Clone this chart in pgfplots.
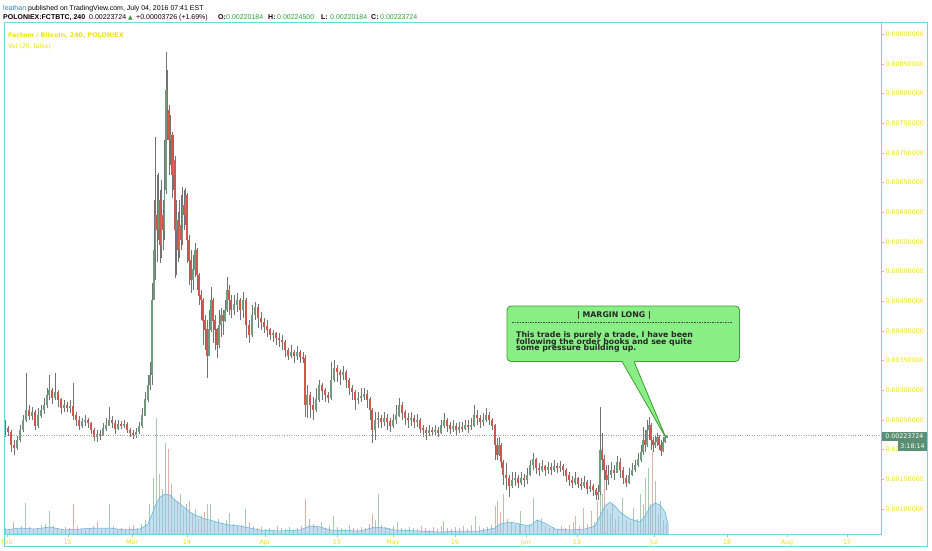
\documentclass[border=0pt]{standalone}
\usepackage{pgfplots}
\pgfplotsset{compat=1.18}
\usepackage{pgfplotstable}
\usepackage{fontspec}
\setmainfont{Liberation Sans}
\newfontfamily\dejavu{DejaVu Sans}

\definecolor{tvcyan}{HTML}{68D8E6}
\definecolor{tvyellow}{HTML}{EEE10C}
\definecolor{tvgreen}{HTML}{2E9E3E}
\definecolor{tvblue}{HTML}{2F7EC1}
\definecolor{candleup}{HTML}{6F9A80}
\definecolor{candledn}{HTML}{D0584B}
\definecolor{wick}{HTML}{727272}
\definecolor{volup}{HTML}{A8C8B2}
\definecolor{voldn}{HTML}{E3AFA9}
\definecolor{volma}{HTML}{8CC8E6}
\definecolor{volmaline}{HTML}{5AAFD9}
\definecolor{lastbox}{HTML}{5B8F73}
\definecolor{notefill}{HTML}{88EE85}
\definecolor{notedraw}{HTML}{3C9E2E}

\newcommand\hdr{\fontsize{7}{8}\selectfont}
\newcommand\tvtick{\dejavu\fontsize{6.3}{7}\selectfont}
\newcommand\note{\dejavu\bfseries\fontsize{7.8}{9}\selectfont}

% POLONIEX FCT/BTC, 240 min candles; prices in 1e-5 BTC, x = bar position
\pgfplotstableread{
x o h l c
5 241 250 221 236
8 236 240 223 230
11 230 233 196 208
14 208 216 191 203
17 203 223 199 216
20 216 241 213 233
23 233 258 230 250
26 250 329 247 267
29 267 275 250 258
32 258 272 250 263
35 263 267 233 241
38 241 270 236 258
41 258 275 253 267
44 267 287 260 275
47 275 304 270 292
49 292 326 284 300
52 300 304 277 287
55 287 329 284 297
58 297 300 272 284
61 284 287 260 270
64 270 284 263 275
67 275 280 263 270
70 270 284 262 273
73 273 312 250 258
76 258 263 240 250
79 250 257 233 241
82 241 253 236 247
85 247 258 240 250
88 250 253 236 245
91 245 247 226 233
94 233 236 215 221
97 221 233 213 226
100 226 233 216 223
103 223 245 223 236
106 236 253 231 241
109 241 272 241 250
112 250 257 236 245
115 245 250 226 236
118 236 250 233 243
121 243 248 235 240
124 240 250 236 243
127 243 247 228 233
130 233 236 221 228
133 228 233 218 225
136 225 236 220 230
139 230 247 226 240
142 240 270 236 258
145 258 297 257 284
148 284 326 280 309
150 309 348 300 326
152 326 481 309 452
154 452 620 452 536
155.5 536 727 486 595
157 595 663 516 570
158.5 570 666 553 620
160 620 637 514 545
161.5 545 654 523 595
163 595 620 536 570
164.5 570 722 553 637
166 637 870 630 806
167.5 806 839 722 772
169 772 780 663 722
170.5 722 764 679 730
172 730 735 624 663
173.5 663 730 637 688
175 688 695 489 570
176.5 570 620 494 587
178 587 600 516 536
179.5 536 620 523 578
181 578 629 536 553
182.5 553 642 545 612
184 612 637 570 595
185.5 595 641 578 629
187 629 632 514 553
189 553 561 477 519
191 519 536 464 486
193 486 528 469 503
195 503 548 491 536
197 536 540 469 494
199 494 497 444 460
201 460 469 418 452
203 452 455 376 418
205 418 427 368 402
207 402 418 321 359
209 359 435 359 402
211 402 474 398 452
213 452 455 380 418
215 418 427 368 402
217 402 405 354 376
219 376 435 372 410
221 410 439 390 427
223 427 435 393 418
225 418 452 415 435
227 435 491 432 469
229 469 477 427 452
231 452 460 422 435
234 435 460 427 444
237 444 464 432 452
240 452 455 418 435
243 435 466 422 452
246 452 455 388 410
249 410 418 380 393
252 393 444 390 427
255 427 449 418 440
258 440 445 405 422
261 422 432 402 415
264 415 422 396 407
267 407 418 390 402
270 402 405 385 393
273 393 402 381 396
276 396 398 376 388
279 388 396 373 385
282 385 393 368 381
285 381 384 356 368
288 368 371 351 359
291 359 376 354 364
294 364 368 346 359
297 359 375 351 364
300 364 368 346 356
303 356 364 346 354
305 354 359 255 275
307 275 309 253 292
310 292 297 253 275
313 275 289 250 267
316 267 304 263 284
319 284 317 280 309
322 309 312 284 300
325 300 304 280 292
328 292 297 279 287
331 287 348 284 317
334 317 351 314 337
337 337 343 314 331
340 331 334 309 326
343 326 341 317 331
346 331 334 304 317
349 317 320 292 304
352 304 309 284 297
355 297 300 267 284
358 284 297 277 287
361 287 304 280 290
364 290 304 284 294
367 294 300 270 284
370 284 288 250 267
372 267 270 211 233
375 233 263 216 250
378 250 263 236 253
381 253 258 236 247
384 247 263 240 253
387 253 260 233 247
390 247 253 230 241
393 241 260 236 250
396 250 275 243 258
399 258 287 255 275
402 275 280 250 263
405 263 267 241 253
408 253 262 236 250
411 250 263 240 253
414 253 258 236 247
417 247 260 238 250
420 250 253 228 236
423 236 241 221 233
426 233 238 216 228
429 228 241 223 233
432 233 238 223 230
435 230 241 225 233
438 233 238 221 228
441 228 250 226 241
444 241 262 236 250
447 250 253 230 241
450 241 247 226 236
453 236 250 230 240
456 240 245 225 233
459 233 247 228 238
462 238 247 230 236
465 236 250 233 241
468 241 250 228 238
471 238 253 233 241
474 241 275 239 258
477 258 267 241 253
480 253 258 236 247
483 247 262 240 250
486 250 270 247 258
489 258 263 241 250
492 250 253 233 241
495 241 244 183 208
497 208 220 183 191
499 191 221 189 208
501 208 211 169 179
503 179 183 140 157
506 157 178 132 152
509 152 157 120 140
512 140 162 135 149
515 149 162 139 152
518 152 157 135 145
521 145 162 140 152
524 152 159 137 149
527 149 169 142 157
530 157 183 155 174
533 174 194 166 183
536 183 186 159 169
539 169 178 156 166
542 166 183 162 172
545 172 174 156 166
548 166 179 159 171
551 171 178 157 167
554 167 183 162 172
557 172 178 161 169
560 169 181 162 172
563 172 176 156 166
566 166 169 145 156
569 156 162 139 149
572 149 156 135 145
575 145 162 140 152
578 152 154 135 142
581 142 152 132 140
584 140 156 135 145
587 145 149 125 135
590 135 149 129 139
593 139 142 122 132
596 132 135 115 124
598 124 140 115 129
600 129 272 124 199
602 199 228 166 183
604 183 191 149 166
606 166 174 132 149
608 149 174 140 157
611 157 179 152 166
614 166 174 149 162
617 162 189 160 179
620 179 186 152 166
623 166 170 142 152
626 152 157 137 145
629 145 169 143 157
632 157 178 156 166
635 166 183 162 174
638 174 194 171 183
641 183 208 179 196
643 196 238 191 216
645 216 233 196 208
647 208 250 205 233
649 233 255 216 241
651 241 245 199 216
653 216 221 196 208
655 208 225 203 213
657 213 228 206 220
659 220 224 199 208
661 208 216 189 199
663 199 221 196 213
665 213 225 211 220.184
667 220.184 224.5 220.184 223.724
}\candles

% volume per bar (pane units), d = 1 up bar, 0 down bar
\pgfplotstableread{
x v d
5 6 1
9 4 0
13 12 0
17 5 1
21 8 1
25 31 1
29 7 0
33 5 0
37 6 1
41 9 1
45 10 1
49 23 1
53 8 0
57 6 0
61 5 0
65 7 1
69 6 0
73 30 0
77 8 0
81 5 1
85 4 0
89 6 0
93 8 0
97 12 0
101 5 1
105 6 1
109 30 1
113 8 0
117 5 1
121 6 0
125 5 1
129 7 0
133 9 0
137 6 1
141 10 1
145 14 1
149 30 1
153 56 1
156 116 1
159 60 0
162 45 1
165 91 1
168 85 0
171 50 0
174 35 1
177 33 0
180 40 1
183 25 0
186 30 1
189 33 0
192 20 0
195 25 1
198 15 0
201 18 0
204 22 0
207 30 0
210 30 1
214 12 0
218 15 1
222 10 0
226 14 1
229 21 1
233 10 0
237 8 1
241 9 0
245 25 1
249 12 0
253 8 1
257 6 0
261 7 0
265 5 1
269 6 0
273 4 1
277 8 0
281 6 0
285 5 0
289 7 1
293 4 0
297 6 1
301 8 0
305 35 0
309 15 1
313 10 0
317 8 1
321 12 1
325 6 0
329 8 1
333 18 1
337 7 0
341 6 1
345 5 0
349 9 0
353 6 0
357 5 1
361 7 0
365 6 0
369 10 0
372 20 0
375 14 1
378 40 1
381 9 0
385 7 1
389 6 0
393 8 1
397 12 1
401 6 0
405 5 0
409 7 1
413 6 0
417 5 1
421 8 0
425 6 0
429 4 1
433 7 0
437 5 1
441 8 0
443 13 1
447 6 1
451 5 0
455 7 1
459 6 0
463 8 1
467 5 0
471 9 1
475 18 1
479 8 0
483 6 1
487 7 0
491 9 1
495 28 0
497 33 0
500 22 0
503 40 0
507 15 0
511 12 1
515 9 1
519 10 0
520 23 1
525 8 0
529 10 1
533 36 1
537 14 0
541 16 1
545 8 0
549 6 1
553 7 0
557 5 1
561 8 0
565 6 0
569 9 0
573 12 1
575 18 0
579 8 0
583 26 0
587 10 0
591 23 0
594 12 1
597 33 0
600 126 1
602 40 1
604 66 0
607 25 0
610 20 1
612 30 0
615 15 1
618 18 0
622 36 1
626 14 0
630 12 1
633 26 1
637 15 1
640 40 1
643 30 0
645 56 1
648 66 1
650 30 0
652 83 0
655 53 1
658 20 0
660 33 1
663 14 0
666 10 1
}\volbars

% Vol (20) moving average
\pgfplotstableread{
x v
5 4
20 6
35 5
50 7
65 4
80 5
95 6
110 6
125 4
140 5
148 10
152 20
156 30
160 37
165 40
170 39
175 34
180 30
185 26
190 22
195 19
200 17
205 15
210 14
220 11
230 9
240 8
250 6
260 4
280 3
300 4
310 8
320 7
330 4
360 3
375 7
385 6
395 4
420 3
440 2
460 3
480 3
495 6
500 10
510 12
520 10
530 8
537 14
545 11
555 5
570 4
585 5
595 8
600 18
605 28
610 32
615 28
620 22
630 15
640 12
645 18
650 27
655 31
660 29
665 22
668 10
}\volma

\begin{document}
\begin{tikzpicture}
\path[use as bounding box] (0,0) rectangle (932pt,-550pt);

% volume pane, drawn underneath
\begin{axis}[
    at={(4.5pt,-534pt)}, anchor=south west,
    scale only axis, width=877pt, height=512pt,
    xmin=4.5, xmax=881.5, ymin=0, ymax=512,
    hide axis, unbounded coords=discard,
]
\addplot[ycomb, draw=voldn, line width=0.8pt, mark=none]
    table[x=x, y expr={\thisrow{d}>0 ? nan : \thisrow{v}}]{\volbars};
\addplot[ycomb, draw=volup, line width=0.8pt, mark=none]
    table[x=x, y expr={\thisrow{d}>0 ? \thisrow{v} : nan}]{\volbars};
\addplot[fill=volma, fill opacity=0.55, draw=volmaline, line width=0.5pt]
    table[x=x, y=v]{\volma} \closedcycle;
\end{axis}

% price pane
\begin{axis}[
    at={(4.5pt,-534pt)}, anchor=south west,
    scale only axis, width=877pt, height=512pt,
    xmin=4.5, xmax=881.5, ymin=57.94, ymax=920.25,
    axis line style={tvcyan, line width=0.9pt},
    xtick pos=left, ytick pos=right, yticklabel pos=right,
    tick align=outside, major tick length=2.5pt,
    tick style={gray!55, line width=0.4pt},
    xtick={7,68,132,187,265,337,393,455,526,577,654,727,787,847},
    xticklabels={Feb,15,Mar,14,Apr,15,May,16,Jun,13,Jul,18,Aug,15},
    ytick={100,150,...,900},
    yticklabels={0.00100000,0.00150000,0.00200000,0.00250000,0.00300000,0.00350000,0.00400000,0.00450000,0.00500000,0.00550000,0.00600000,0.00650000,0.00700000,0.00750000,0.00800000,0.00850000,0.00900000},
    ticklabel style={text=tvyellow, font=\tvtick},
    xticklabel style={anchor=north, inner sep=0pt, yshift=-3pt},
    yticklabel style={anchor=west, inner sep=0pt, xshift=1.5pt},
    unbounded coords=discard,
]
% wicks
\addplot[draw=none, no marks, forget plot,
    error bars/.cd, y dir=both, y explicit, error mark=none,
    error bar style={draw=wick, line width=0.4pt}]
    table[x=x, y expr={(\thisrow{h}+\thisrow{l})/2},
          y error expr={(\thisrow{h}-\thisrow{l})/2}]{\candles};
% up bodies
\addplot[draw=none, no marks, forget plot,
    error bars/.cd, y dir=both, y explicit, error mark=none,
    error bar style={draw=candleup, line width=1.1pt}]
    table[x=x, y expr={\thisrow{c}>=\thisrow{o} ? (\thisrow{o}+\thisrow{c})/2 : nan},
          y error expr={abs(\thisrow{c}-\thisrow{o})/2+0.5}]{\candles};
% down bodies
\addplot[draw=none, no marks, forget plot,
    error bars/.cd, y dir=both, y explicit, error mark=none,
    error bar style={draw=candledn, line width=1.1pt}]
    table[x=x, y expr={\thisrow{c}<\thisrow{o} ? (\thisrow{o}+\thisrow{c})/2 : nan},
          y error expr={abs(\thisrow{c}-\thisrow{o})/2+0.5}]{\candles};
% last price line
\draw[dotted, gray!75, line width=0.35pt] (axis cs:4.5,223.724) -- (axis cs:881.5,223.724);
\end{axis}

\begin{scope}[x=1pt, y=-1pt]
% outer pane frame
\draw[tvcyan, line width=0.9pt] (4.5,22) rectangle (927.5,546.5);

% header
\node[anchor=base west, inner sep=0, font=\hdr] at (3,10)
    {\textcolor{tvblue}{leathan} published on TradingView.com, July 04, 2016 07:41 EST};
\node[anchor=base west, inner sep=0, font=\hdr\bfseries] at (3,19.5) {POLONIEX:FCTBTC, 240};
\node[anchor=base west, inner sep=0, font=\hdr] at (89,19.5) {0.00223724};
\node[anchor=base west, inner sep=0, font=\dejavu\fontsize{6}{7}\selectfont, text=tvgreen] at (128,19.5) {▲};
\node[anchor=base west, inner sep=0, font=\hdr] at (136,19.5) {+0.00003726 (+1.69\%)};
\node[anchor=base west, inner sep=0, font=\hdr\bfseries] at (218,19.5) {O:};
\node[anchor=base west, inner sep=0, font=\hdr, text=tvgreen] at (226,19.5) {0.00220184};
\node[anchor=base west, inner sep=0, font=\hdr\bfseries] at (268,19.5) {H:};
\node[anchor=base west, inner sep=0, font=\hdr, text=tvgreen] at (277,19.5) {0.00224500};
\node[anchor=base west, inner sep=0, font=\hdr\bfseries] at (321,19.5) {L:};
\node[anchor=base west, inner sep=0, font=\hdr, text=tvgreen] at (330,19.5) {0.00220184};
\node[anchor=base west, inner sep=0, font=\hdr\bfseries] at (371,19.5) {C:};
\node[anchor=base west, inner sep=0, font=\hdr, text=tvgreen] at (380,19.5) {0.00223724};

% pane legend
\node[anchor=base west, inner sep=0, text=tvyellow, font=\dejavu\bfseries\fontsize{6.3}{7}\selectfont]
    at (8,37) {Factom / Bitcoin, 240, POLONIEX};
\node[anchor=base west, inner sep=0, text=tvyellow, font=\dejavu\fontsize{6.2}{7}\selectfont]
    at (8,48) {Vol (20, false)};

% last price and countdown
\fill[lastbox] (881.5,431.5) rectangle (927,441);
\node[text=white, inner sep=0, font=\tvtick] at (904.3,436.3) {0.00223724};
\fill[lastbox] (898,441) rectangle (927,450.5);
\node[text=white, inner sep=0, font=\tvtick] at (912.5,445.8) {3:18:14};

% callout
\draw[notedraw, fill=notefill, line width=0.8pt, rounded corners=4pt] (507,306) rectangle (739.5,361.5);
\fill[notefill] (622,360.6) -- (634,360.6) -- (666,438) -- cycle;
\draw[notedraw, line width=0.8pt] (622,361.5) -- (666,438) -- (634,361.5);
\node[anchor=base, inner sep=0, font=\note, text=black!85] at (614,317) {| MARGIN LONG |};
\draw[black!70, line width=0.5pt, dash pattern=on 1.6pt off 1pt] (512,321.8) -- (733,321.8);
\node[anchor=base west, inner sep=0, font=\note, text=black!85] at (516,337) {This trade is purely a trade, I have been};
\node[anchor=base west, inner sep=0, font=\note, text=black!85] at (516,344) {following the order books and see quite};
\node[anchor=base west, inner sep=0, font=\note, text=black!85] at (516,350.8) {some pressure building up.};
\end{scope}
\end{tikzpicture}
\end{document}
